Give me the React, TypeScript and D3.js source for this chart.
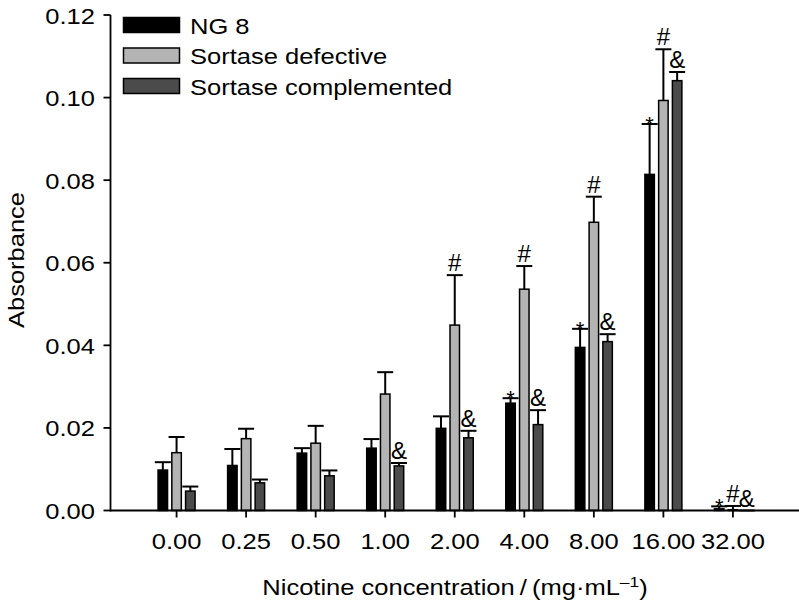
import React from 'react';
import * as d3 from 'd3';

const categories = ['0.00', '0.25', '0.50', '1.00', '2.00', '4.00', '8.00', '16.00', '32.00'];
const seriesNames = ['NG 8', 'Sortase defective', 'Sortase complemented'];
const ng8Mean = [0.0098, 0.0109, 0.0139, 0.0151, 0.0199, 0.026, 0.0395, 0.0814, 0.0004];
const ng8Err = [0.0019, 0.004, 0.0012, 0.0022, 0.0029, 0.0012, 0.0045, 0.0122, 0.0006];
const defMean = [0.014, 0.0174, 0.0163, 0.0282, 0.0449, 0.0536, 0.0698, 0.0993, 0.0002];
const defErr = [0.0038, 0.0024, 0.0042, 0.0053, 0.0121, 0.0056, 0.0062, 0.0124, 0.0009];
const compMean = [0.0047, 0.0067, 0.0084, 0.0108, 0.0176, 0.0208, 0.0409, 0.1041, 0.0];
const compErr = [0.0011, 0.0008, 0.0013, 0.0007, 0.0017, 0.0035, 0.0018, 0.0021, 0.0];
const ng8Marks = ['', '', '', '', '', '*', '*', '*', '*'];
const defMarks = ['', '', '', '', '#', '#', '#', '#', '#'];
const compMarks = ['', '', '', '&', '&', '&', '&', '&', '&'];
const yTicks = [0, 0.02, 0.04, 0.06, 0.08, 0.1, 0.12];
const seriesFill = ['#000000', '#b4b4b4', '#4b4b4b'];

const W = 799;
const H = 604;
const FONT = "'Liberation Sans', Arial, Helvetica, sans-serif";
const SX = 1.16;

function SText(props: { x: number; y: number; anchor?: string; size?: number; rotate?: boolean; sx?: number; children: any }) {
  const { x, y, anchor = 'start', size = 22, rotate = false, sx = SX, children } = props;
  return (
    <g transform={`translate(${x},${y})${rotate ? ' rotate(-90)' : ''} scale(${sx},1)`}>
      <text textAnchor={anchor} fontSize={size} fontFamily={FONT} fill="#000">
        {children}
      </text>
    </g>
  );
}

export default function App() {
  const x0 = 110.5;
  const yBase = 510.5;
  const y = d3.scaleLinear().domain([0, 0.12]).range([yBase, 15]);
  const x = d3.scalePoint<string>().domain(categories).range([x0, W]).padding(0.95);
  const x1 = d3.scaleBand<string>().domain(seriesNames).range([-18.5, 18.5]).paddingInner(0.31);
  const bw = x1.bandwidth();
  const means = [ng8Mean, defMean, compMean];
  const errs = [ng8Err, defErr, compErr];
  const marks = [ng8Marks, defMarks, compMarks];
  const capHalf = 8;

  return (
    <svg width={W} height={H} style={{ position: 'absolute', left: 0, top: 0, background: '#fff' }}>
      {/* bars */}
      {seriesNames.map((s, si) =>
        categories.map((c, ci) => {
          const v = means[si][ci];
          const bx = (x(c) as number) + (x1(s) as number);
          const top = y(v);
          return (
            <rect
              key={`b${si}-${ci}`}
              x={bx}
              y={top}
              width={bw}
              height={Math.max(0, yBase - top)}
              fill={seriesFill[si]}
              stroke="#000"
              strokeWidth={1.5}
            />
          );
        })
      )}
      {/* error bars */}
      {seriesNames.map((s, si) =>
        categories.map((c, ci) => {
          const v = means[si][ci];
          const e = errs[si][ci];
          const cx = (x(c) as number) + (x1(s) as number) + bw / 2;
          const yt = y(v);
          const ye = y(v + e);
          return (
            <g key={`e${si}-${ci}`} stroke="#000" strokeWidth={2}>
              <line x1={cx} x2={cx} y1={yt} y2={ye} />
              <line x1={cx - capHalf} x2={cx + capHalf} y1={ye} y2={ye} />
            </g>
          );
        })
      )}
      {/* significance marks */}
      {seriesNames.map((s, si) =>
        categories.map((c, ci) => {
          const m = marks[si][ci];
          if (!m) return null;
          const v = means[si][ci];
          const e = errs[si][ci];
          const cx = (x(c) as number) + (x1(s) as number) + bw / 2;
          const ye = y(v + e);
          const by = m === '*' ? ye + 8 : ye - 4;
          return (
            <SText key={`m${si}-${ci}`} x={cx} y={by} anchor="middle" size={m === '*' ? 22 : 24} sx={1}>
              {m}
            </SText>
          );
        })
      )}
      {/* y axis */}
      <line x1={x0} x2={x0} y1={y(0) + 0.9} y2={y(0.12)} stroke="#000" strokeWidth={1.8} />
      {yTicks.map((t) => (
        <g key={`yt${t}`}>
          <line x1={x0 - 7} x2={x0} y1={y(t)} y2={y(t)} stroke="#000" strokeWidth={1.8} />
          <SText x={95} y={y(t) + 8.5} anchor="end">
            {d3.format('.2f')(t)}
          </SText>
        </g>
      ))}
      {/* x axis */}
      <line x1={x0} x2={W} y1={yBase} y2={yBase} stroke="#000" strokeWidth={1.8} />
      {categories.map((c) => (
        <g key={`xt${c}`}>
          <line x1={x(c) as number} x2={x(c) as number} y1={yBase} y2={yBase + 7} stroke="#000" strokeWidth={1.8} />
          <SText x={x(c) as number} y={548.5} anchor="middle">
            {c}
          </SText>
        </g>
      ))}
      {/* axis titles */}
      <SText x={455} y={595} anchor="middle">
        {'Nicotine concentration\u2009/\u2009(mg\u00b7mL'}
        <tspan dy={-8} fontSize={15}>{'\u20131'}</tspan>
        <tspan dy={8}>{')'}</tspan>
      </SText>
      <SText x={24} y={260} anchor="middle" rotate>
        Absorbance
      </SText>
      {/* legend */}
      {seriesNames.map((s, si) => (
        <g key={`lg${si}`}>
          <rect x={123.5} y={17.5 + si * 30.5} width={56} height={15} fill={seriesFill[si]} stroke="#000" strokeWidth={1.5} />
          <SText x={190} y={33.5 + si * 30.5}>
            {s}
          </SText>
        </g>
      ))}
    </svg>
  );
}
